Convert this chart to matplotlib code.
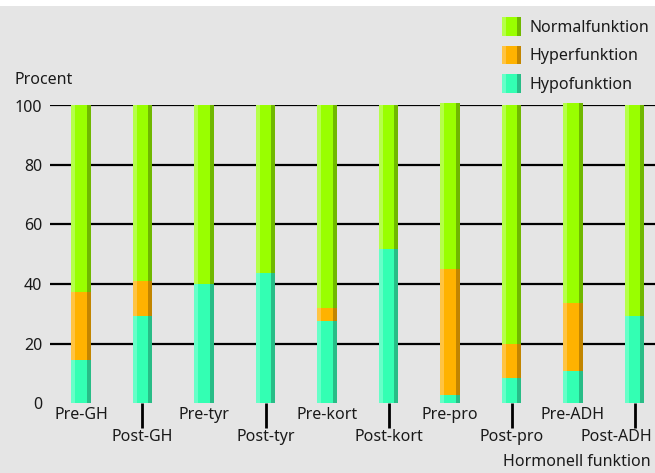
import numpy as np
import matplotlib
matplotlib.use('Agg')
import matplotlib.pyplot as plt
from matplotlib.patches import Patch, Rectangle
from matplotlib.legend_handler import HandlerBase

plt.rcParams['font.family'] = ['Noto Sans', 'DejaVu Sans']

# ── data: percentage of patients per hormone axis ──────────────────
categories = ["Pre-GH", "Post-GH", "Pre-tyr", "Post-tyr", "Pre-kort",
              "Post-kort", "Pre-pro", "Post-pro", "Pre-ADH", "Post-ADH"]
hypo = np.array([14.6, 29.3, 40.1, 43.7, 27.6, 51.8, 2.7, 8.5, 10.8, 29.3])
hyper = np.array([22.7, 11.7, 0, 0, 4.4, 0, 42.3, 11.3, 22.8, 0])
normal = 100 - hypo - hyper
normal[6] += 0.8   # rounding pushes these two slightly past 100
normal[8] += 0.7

series = ["Hypofunktion", "Hyperfunktion", "Normalfunktion"]
# (main, left highlight, right shade)
colors = {
    "Normalfunktion": ("#99ff00", "#b5ff4a", "#70b800"),
    "Hyperfunktion": ("#ffb200", "#ffc443", "#c28500"),
    "Hypofunktion": ("#33ffb3", "#66ffc8", "#28bd87"),
}

bg = "#e5e5e5"
txt = "#1a1a1a"
fs = 11.5


class ShadedHandler(HandlerBase):
    # legend swatch drawn like the bars: light strip | main | dark strip
    def create_artists(self, legend, orig_handle, xdescent, ydescent,
                       width, height, fontsize, trans):
        main, light, dark = orig_handle.shades
        x0, y0 = -xdescent, -ydescent
        s = width * 0.22
        return [Rectangle((x0, y0), width, height, facecolor=main, edgecolor="none", transform=trans),
                Rectangle((x0, y0), s, height, facecolor=light, edgecolor="none", transform=trans),
                Rectangle((x0 + width - s, y0), s, height, facecolor=dark, edgecolor="none", transform=trans)]


fig = plt.figure(figsize=(6.55, 4.73), dpi=100)
fig.patch.set_facecolor(bg)
fig.patches.append(Rectangle((0, 1 - 6 / 473), 1, 6 / 473, transform=fig.transFigure,
                             facecolor="white", edgecolor="none"))

ax = fig.add_axes([50 / 655, 70 / 473, 605 / 655, 297.5 / 473])
ax.set_facecolor(bg)
for s in ax.spines.values():
    s.set_visible(False)

x = np.arange(len(categories))
w = 0.31
strip = 0.065

for yv in [20, 40, 60, 80, 100]:
    ax.axhline(yv, color="black", lw=1.6, zorder=1)

bottom = np.zeros(len(categories))
for name, vals in zip(series, [hypo, hyper, normal]):
    main, light, dark = colors[name]
    ax.bar(x, vals, w, bottom=bottom, color=main, zorder=2, clip_on=False)
    ax.bar(x - w / 2 + strip / 2, vals, strip, bottom=bottom, color=light, zorder=3, clip_on=False)
    ax.bar(x + w / 2 - strip / 2, vals, strip, bottom=bottom, color=dark, zorder=3, clip_on=False)
    bottom += vals

ax.set_xlim(-0.504, 9.333)
ax.set_ylim(0, 100)
ax.set_yticks([0, 20, 40, 60, 80, 100])
ax.tick_params(axis="y", length=0, pad=5.5, labelsize=fs, labelcolor=txt)

# Post labels hang below a tick, Pre labels sit right under the bars
post_labels = categories[1::2]
ax.set_xticks(x[1::2])
ax.set_xticklabels(post_labels[:-1] + [""])
ax.set_xticks(x[0::2], minor=True)
ax.set_xticklabels(categories[0::2], minor=True)
ax.tick_params(axis="x", which="major", length=18, width=2, color="black",
               pad=1, labelsize=fs, labelcolor=txt)
ax.tick_params(axis="x", which="minor", length=0, pad=3,
               labelsize=fs, labelcolor=txt)
# last label would run off the right edge, so pull it in
ax.annotate(post_labels[-1], xy=(x[-1], 0), xycoords=("data", "axes fraction"),
            xytext=(13, -19), textcoords="offset points", ha="right", va="top",
            fontsize=fs, color=txt, annotation_clip=False)

fig.text(14 / 655, 1 - 80 / 473, "Procent", fontsize=fs, color=txt, va="center")
fig.text(651 / 655, 1 - 462 / 473, "Hormonell funktion", fontsize=fs,
         color=txt, va="center", ha="right")

handles = []
for n in series[::-1]:
    p = Patch(label=n)
    p.shades = colors[n]
    handles.append(p)
leg = fig.legend(handles=handles, loc="upper left",
                 bbox_to_anchor=(502 / 655, 1 - 17 / 473), frameon=False,
                 borderpad=0, borderaxespad=0,
                 fontsize=fs, handlelength=1.2, handleheight=1.42,
                 handletextpad=0.5, labelspacing=0.62,
                 handler_map={Patch: ShadedHandler()})
for t in leg.get_texts():
    t.set_color(txt)

fig.savefig("out.png", dpi=100, facecolor=bg)
